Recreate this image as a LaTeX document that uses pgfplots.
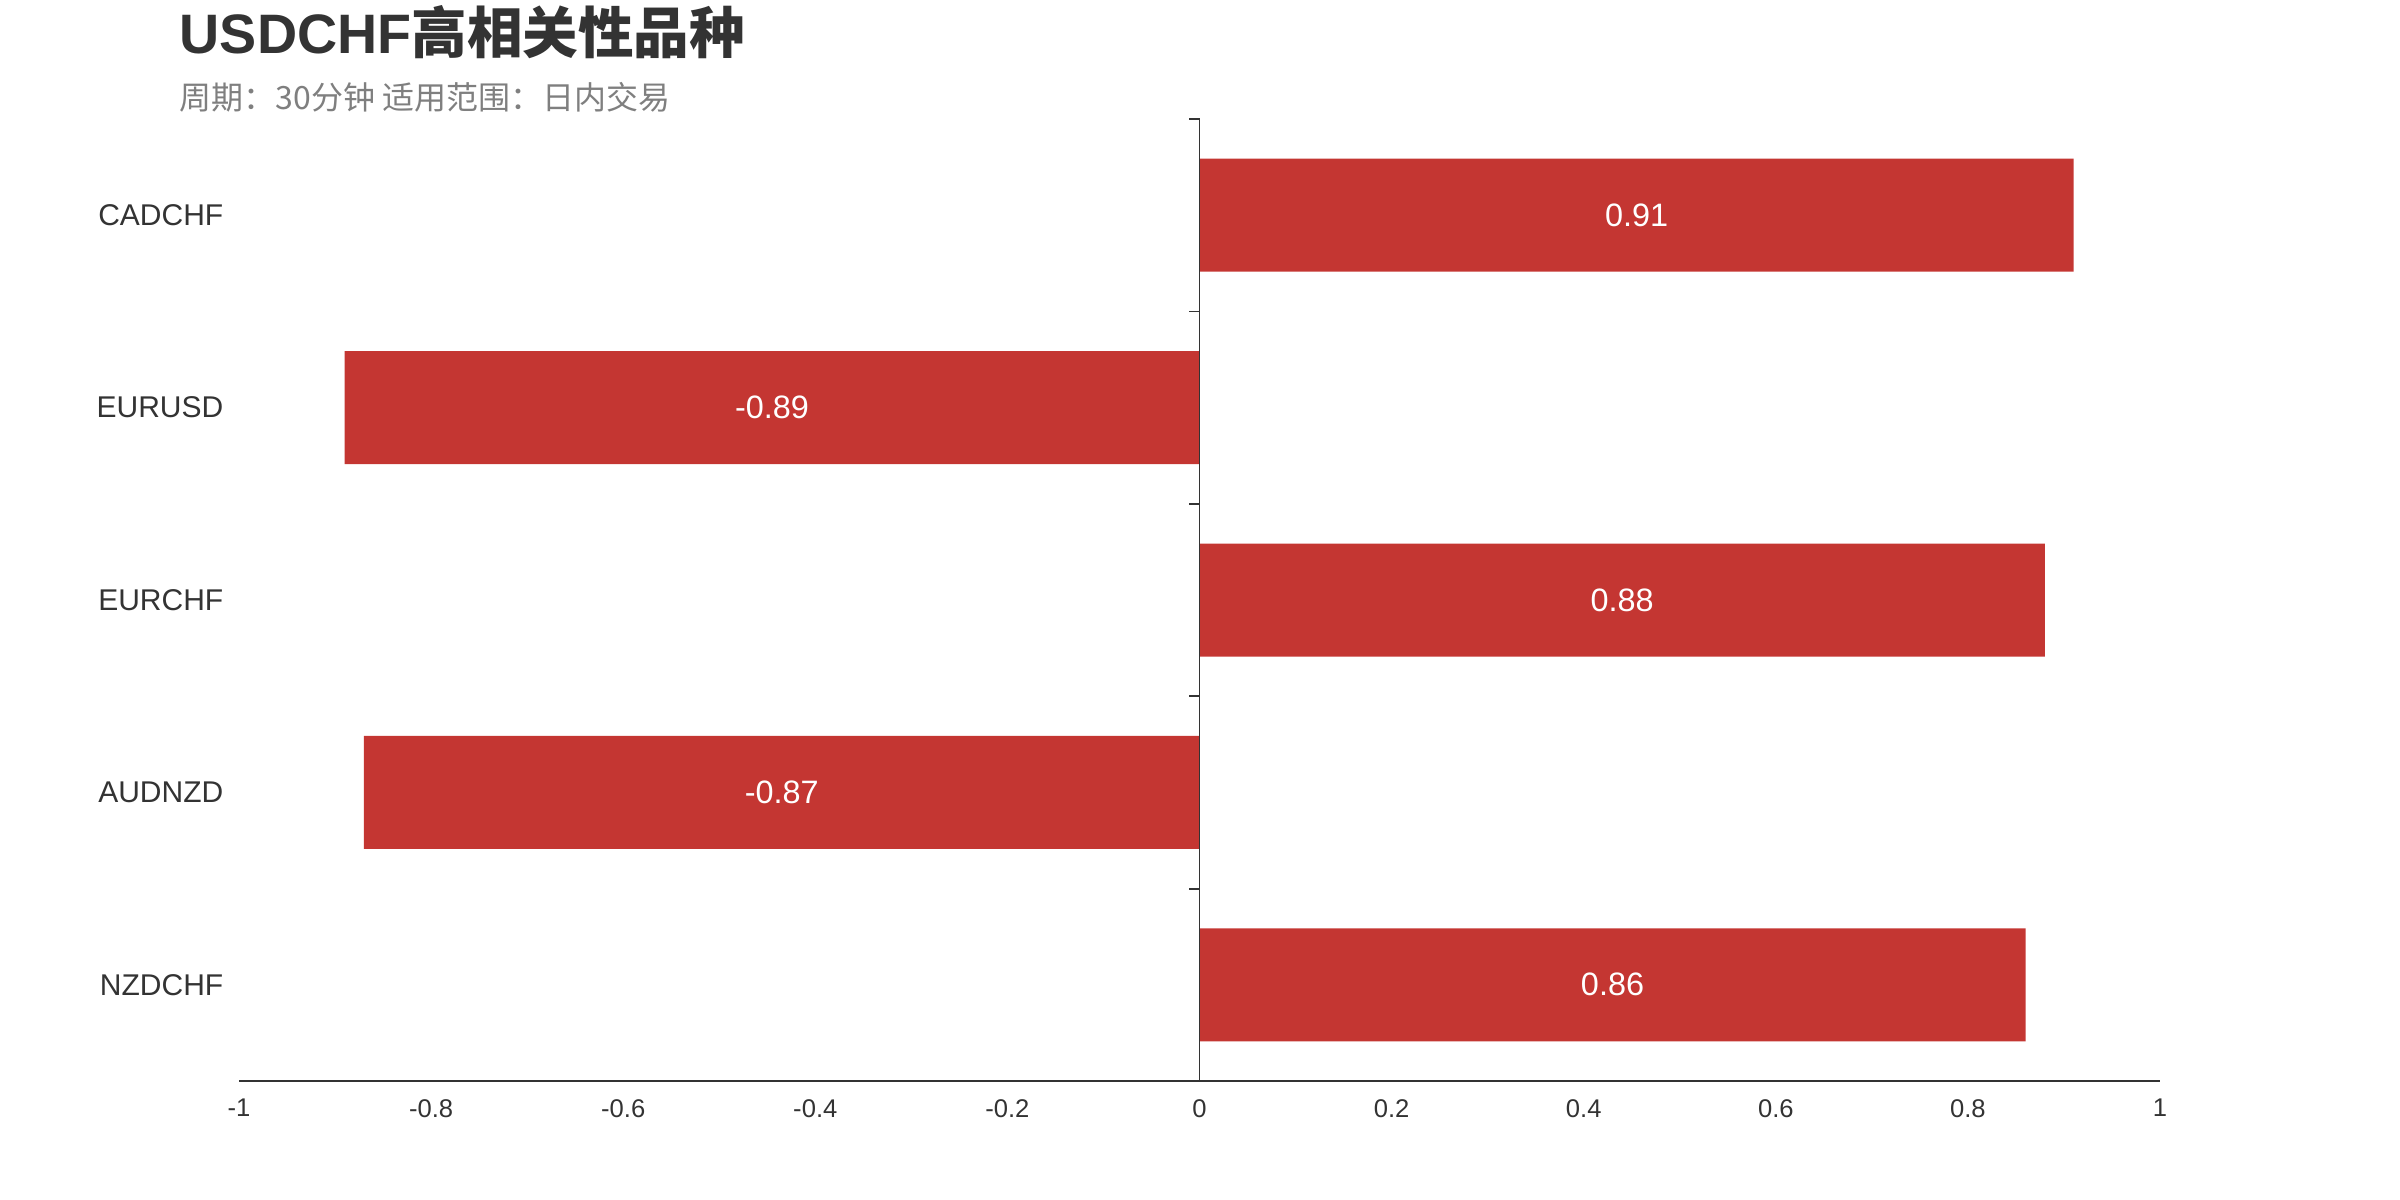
\documentclass[border=0pt]{standalone}
\usepackage{pgfplots}
\pgfplotsset{compat=1.18}
\usepackage{fontspec}
\setmainfont{Liberation Sans}
\newfontfamily\cjk{Noto Sans CJK SC}
\definecolor{barred}{HTML}{C43632}
\definecolor{txt}{HTML}{333333}
\definecolor{subgray}{HTML}{7F7F7F}

\begin{document}
\begin{tikzpicture}[x=1pt,y=1pt]
\useasboundingbox (0,0) rectangle (600,300);
% title and subtitle
\node[anchor=base west, inner sep=0, text=txt,
      font=\fontsize{13.9}{13.9}\selectfont\bfseries] at (44.75,286.5)
      {USDCHF{\cjk\bfseries 高相关性品种}};
\node[anchor=base west, inner sep=0, text=subgray,
      font=\fontsize{8}{8}\selectfont\cjk] at (44.75,272.5)
      {周期：30分钟 适用范围：日内交易};
\begin{axis}[
    at={(59.75pt,29.75pt)}, anchor=south west,
    scale only axis, width=480.25pt, height=240.5pt,
    xbar, bar width=28.25pt,
    xmin=-1, xmax=1, ymin=-0.5, ymax=4.5,
    axis x line*=bottom, axis y line*=left,
    x axis line style={draw=txt, line width=0.6pt, -},
    y axis line style={draw=none},
    major tick length=0pt,
    xtick={-1,-0.8,-0.6,-0.4,-0.2,0,0.2,0.4,0.6,0.8,1},
    xticklabels={-1,-0.8,-0.6,-0.4,-0.2,0,0.2,0.4,0.6,0.8,1},
    ytick={0,1,2,3,4},
    yticklabels={NZDCHF,AUDNZD,EURCHF,EURUSD,CADCHF},
    xticklabel style={font=\fontsize{6.4}{6.4}\selectfont, text=txt, yshift=-1pt},
    yticklabel style={font=\fontsize{7.5}{7.5}\selectfont, text=txt, xshift=-0.4pt},
    clip=false,
]
\addplot[fill=barred, draw=none,
    point meta=explicit symbolic,
    nodes near coords,
    visualization depends on={rawx \as \rawx},
    every node near coord/.append style={anchor=center, text=white,
        font=\fontsize{8.1}{8.1}\selectfont,
        shift={(axis direction cs:-\rawx/2,0)}},
] coordinates {
    (0.86,0) [0.86]
    (-0.87,1) [-0.87]
    (0.88,2) [0.88]
    (-0.89,3) [-0.89]
    (0.91,4) [0.91]
};
% vertical zero line with ticks between categories
\draw[txt, line width=0.45pt] (axis cs:0,-0.5) -- (axis cs:0,4.5);
\pgfplotsinvokeforeach{0.5,1.5,2.5,3.5,4.5}{
    \draw[txt, line width=0.45pt] (axis cs:0,#1) -- ++(-2.7pt,0pt);
}
\end{axis}
\end{tikzpicture}
\end{document}
